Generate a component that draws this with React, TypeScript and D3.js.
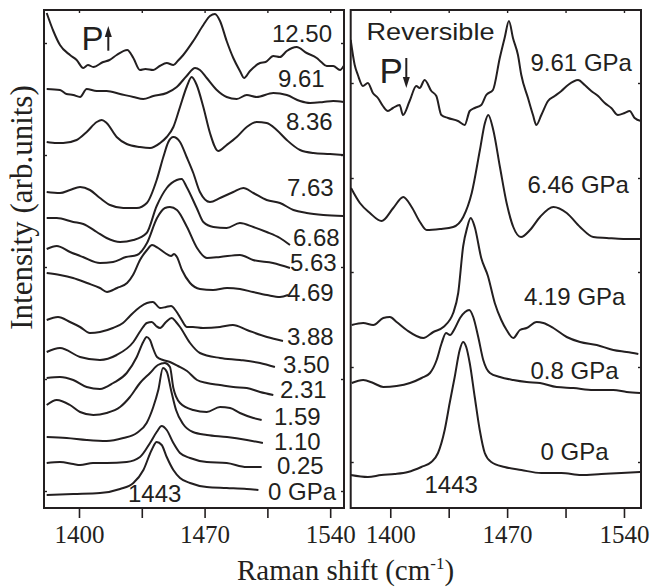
import React, { useRef, useEffect } from 'react';
import * as d3 from 'd3';

type Pt = [number, number];

// Raman shift (cm-1) vs stacked intensity (arb. units), compression run
const p1250: Pt[] = [[1382.0,495],[1385.7,477],[1389.4,463],[1395.0,453],[1398.7,448],[1402.4,440],[1405,443],[1408.0,441],[1413.5,446],[1417,448],[1421.0,453],[1426.9,458],[1430.3,450],[1434.0,438],[1437,439],[1441.4,438],[1445,442],[1448.9,445],[1452.6,443],[1455,447],[1458.1,453],[1463.7,467],[1469.3,483],[1473.0,492],[1475.8,494],[1478.6,487],[1482.3,467],[1486.0,450],[1489.7,437],[1492.0,430],[1495.3,437],[1500.9,445],[1504,446],[1508.3,452],[1512,451],[1515.8,457],[1521.3,461],[1526.9,455],[1532.5,450],[1535,446],[1538.1,442],[1541.7,442],[1545.5,438],[1547.5,442]];
const p961: Pt[] = [[1382.0,419],[1389.4,418],[1393,414],[1396.8,413],[1400.6,411],[1404.3,419],[1409.9,417],[1415.4,417],[1422.9,414],[1430.3,411],[1435.8,409],[1441.4,412],[1448.9,415],[1454.5,421],[1460.0,432],[1464.7,440],[1467.4,438],[1471.2,430],[1476.8,418],[1482.3,411],[1487.9,409],[1493.5,413],[1499.0,411],[1508.3,415],[1515.8,413],[1523.2,407],[1528.8,405],[1536.2,406],[1541.7,407],[1547.5,406]];
const p836: Pt[] = [[1382.0,366],[1387.6,365],[1391.2,365],[1398.7,368],[1404.3,376],[1409.9,386],[1412.7,388],[1415.4,385],[1421.0,371],[1426.6,364],[1434.0,361],[1439.6,360],[1445.2,365],[1448.9,371],[1452.6,381],[1456.3,401],[1460.0,421],[1462.8,431],[1465.6,423],[1469.3,401],[1473.0,375],[1477.6,357],[1482.3,363],[1487.9,371],[1493.5,381],[1499.0,386],[1504.6,385],[1510.2,378],[1515.8,368],[1523.2,358],[1530.6,355],[1539.9,354],[1547.3,353]];
const p763: Pt[] = [[1382.0,316],[1389.4,315],[1395.0,318],[1400.6,321],[1406.1,318],[1411.7,310],[1417.3,303],[1424.7,300],[1432.2,300],[1437.8,305],[1443.3,328],[1447.0,351],[1449.8,366],[1452.6,371],[1456.3,366],[1460.0,351],[1463.7,335],[1467.4,316],[1473.0,306],[1478.6,310],[1486.0,316],[1491.6,320],[1497.2,315],[1504.6,308],[1512.0,305],[1519.5,298],[1526.9,295],[1536.2,293],[1547.3,292]];
const p668: Pt[] = [[1382.0,290],[1387.6,290],[1396.8,286],[1402.4,284],[1409.9,276],[1415.4,270],[1422.9,266],[1430.3,268],[1437.7,275],[1443.3,302],[1448.9,320],[1454.5,328],[1457.2,329],[1460.0,321],[1465.6,300],[1469.3,286],[1474.9,281],[1482.3,280],[1489.7,285],[1497.2,281],[1504.6,276],[1512.0,270],[1517.6,263]];
const p563: Pt[] = [[1382.0,259],[1387.6,262],[1395.0,256],[1402.2,251],[1411.7,245],[1419.0,246],[1426.2,251],[1432.3,253],[1437.9,265],[1443.5,290],[1447.9,300],[1450.7,301],[1454.6,298],[1460.2,281],[1465.8,260],[1471.3,250],[1478.6,251],[1489.7,253],[1497.0,248],[1508.1,245],[1517.6,240]];
const p469: Pt[] = [[1382.0,235],[1389.4,233],[1396.7,230],[1404.5,225],[1411.7,220],[1415.6,216],[1421.2,220],[1426.8,225],[1430.1,233],[1434.0,248],[1437.9,258],[1440.7,263],[1444.1,260],[1448.0,255],[1451.3,252],[1453.0,254],[1454.6,251],[1457.4,238],[1461.9,225],[1467.4,219],[1474.7,218],[1482.5,220],[1489.7,219],[1497.0,216],[1504.8,213],[1512.0,211],[1516.5,213]];
const p388: Pt[] = [[1382.0,188],[1388.3,191],[1395.0,186],[1400.6,181],[1406.1,175],[1411.7,176],[1418.9,180],[1424.5,185],[1428.4,192],[1434.0,201],[1437.9,205],[1441.2,206],[1445.2,200],[1448.5,201],[1451.3,202],[1454.1,197],[1456.9,189],[1460.2,181],[1463.5,181],[1469.1,180],[1478.6,181],[1485.8,183],[1493.6,178],[1504.8,171],[1513.7,167]];
const p350: Pt[] = [[1382.0,156],[1389.4,160],[1400.6,151],[1411.7,148],[1421.0,153],[1430.3,166],[1434.6,178],[1437.8,185],[1440.6,186],[1443.0,182],[1445.2,180],[1448.5,186],[1451.7,190],[1454.1,186],[1456.3,181],[1461.9,165],[1467.4,155],[1478.6,150],[1489.7,148],[1500.9,145],[1509.2,141]];
const p231: Pt[] = [[1382.0,130],[1389.4,131],[1396.8,128],[1404.3,121],[1411.7,119],[1419.1,125],[1426.6,135],[1432.2,151],[1435.8,166],[1437.7,171],[1439.6,168],[1441.2,160],[1443.5,151],[1446.8,148],[1450.7,146],[1455.2,142],[1460.2,137],[1465.8,128],[1471.3,125],[1478.6,123],[1486.0,121],[1493.5,120],[1500.9,116],[1508.3,113]];
const p159: Pt[] = [[1382.0,103],[1387.6,108],[1395.0,103],[1400.6,96],[1408.0,93],[1415.4,95],[1422.9,101],[1428.4,111],[1434.0,125],[1439.6,135],[1444.0,143],[1447.9,145],[1450.7,141],[1452.6,120],[1456.3,105],[1463.7,98],[1471.2,96],[1478.6,101],[1484.2,100],[1489.7,95],[1497.2,90],[1501.8,88]];
const p110: Pt[] = [[1382.0,71],[1393.1,70],[1404.3,68],[1415.4,67],[1424.7,70],[1432.2,75],[1437.7,85],[1441.4,101],[1444.2,118],[1446.8,140],[1449.0,136],[1451.3,118],[1454.1,98],[1458.0,84],[1463.5,76],[1471.3,73],[1482.5,71],[1493.6,68],[1502.5,65]];
const p025: Pt[] = [[1382.0,45],[1389.4,46],[1396.8,44],[1400.6,43],[1407.8,45],[1415.4,45],[1426.6,46],[1434.0,51],[1439.6,65],[1443.3,76],[1446.1,82],[1448.9,78],[1452.6,65],[1456.3,55],[1461.9,50],[1471.2,46],[1482.3,45],[1493.5,41],[1501.8,41]];
const p000: Pt[] = [[1382.0,13],[1396.8,14],[1411.7,15],[1422.9,19],[1430.3,25],[1435.9,38],[1440.5,58],[1443.3,66],[1446.1,63],[1448.9,51],[1452.6,38],[1456.3,30],[1461.9,25],[1471.2,21],[1482.3,20],[1493.5,19],[1500.0,18]];

// decompression run (right panel)
const r961: Pt[] = [[1376.3,468],[1378.7,443],[1380.6,433],[1383.6,422],[1386.6,425],[1389.6,415],[1392.6,410],[1395.6,402],[1398.6,397],[1401.6,400],[1405.6,403],[1407.6,393],[1411.6,407],[1415.6,422],[1417.6,420],[1420.6,428],[1424.6,417],[1427.6,412],[1430.6,393],[1434.6,390],[1440.6,387],[1444.6,383],[1447.6,397],[1450.6,400],[1454.5,403],[1457.5,413],[1461.5,418],[1465.6,450],[1468.5,470],[1471.1,487],[1473.5,470],[1476.5,453],[1478.5,433],[1482.5,410],[1485.5,393],[1487.5,383],[1490.5,393],[1494.5,407],[1498.5,412],[1502.5,417],[1506.5,423],[1512.5,428],[1516.5,423],[1520.4,417],[1524.5,412],[1528.5,405],[1532.4,400],[1536.4,393],[1540.4,395],[1543.4,397],[1546.4,390],[1550.2,387]];
const r646: Pt[] = [[1376.5,320],[1381.8,305],[1387.8,295],[1394.8,287],[1401.8,300],[1407.8,311],[1412.8,301],[1417.8,286],[1421.8,278],[1429.8,279],[1437.7,281],[1443.7,291],[1448.8,315],[1453.7,358],[1456.7,385],[1458.7,393],[1461.7,378],[1465.7,341],[1469.7,305],[1473.7,281],[1478.3,271],[1483.7,278],[1489.7,291],[1497.7,301],[1505.7,295],[1513.7,281],[1521.6,271],[1529.7,270],[1539.6,269],[1549.6,269]];
const r419: Pt[] = [[1376.9,183],[1383.8,185],[1389.8,183],[1395.8,190],[1399.8,191],[1403.8,186],[1409.8,178],[1419.8,170],[1425.8,176],[1431.8,181],[1437.7,195],[1440.7,215],[1443.7,262],[1446.0,280],[1448.2,290],[1450.6,281],[1454.5,250],[1458.5,232],[1462.6,205],[1466.5,188],[1469.7,178],[1473.7,170],[1477.7,178],[1481.7,180],[1487.7,186],[1491.7,185],[1497.7,180],[1505.7,171],[1513.7,166],[1523.7,163],[1533.6,158],[1541.6,156],[1548.6,154]];
const r080: Pt[] = [[1376.9,125],[1383.8,128],[1389.8,125],[1395.8,121],[1403.8,122],[1411.8,125],[1418.8,130],[1423.8,135],[1427.8,148],[1430.8,165],[1433.4,175],[1435.8,173],[1438.8,180],[1441.8,190],[1444.8,196],[1447.3,198],[1449.7,191],[1452.7,171],[1455.7,148],[1459.7,135],[1465.7,131],[1473.7,128],[1481.7,126],[1489.7,125],[1499.7,121],[1509.7,120],[1521.6,118],[1533.6,118],[1541.6,116],[1549.6,115]];
const r000: Pt[] = [[1376.3,33],[1386.6,31],[1394.6,33],[1402.6,34],[1410.6,36],[1418.6,41],[1424.6,46],[1428.6,55],[1432.6,78],[1435.6,105],[1438.6,131],[1441.6,158],[1443.6,166],[1445.5,161],[1447.6,145],[1450.6,111],[1453.6,78],[1456.6,55],[1460.5,46],[1468.5,41],[1478.5,38],[1490.5,35],[1502.5,35],[1514.4,33],[1526.4,34],[1538.4,35],[1550.2,36]];

const leftSpectra = [p1250, p961, p836, p763, p668, p563, p469, p388, p350, p231, p159, p110, p025, p000];
const rightSpectra = [r961, r646, r419, r080, r000];

const leftLabels = ['12.50', '9.61', '8.36', '7.63', '6.68', '5.63', '4.69', '3.88', '3.50', '2.31', '1.59', '1.10', '0.25', '0 GPa'];
const rightLabels = ['9.61 GPa', '6.46 GPa', '4.19 GPa', '0.8 GPa', '0 GPa'];

const xTicks = [1400, 1435, 1470, 1505, 1540];
const labelledTicks = [1400, 1470, 1540];
const leftYTicks = [17, 129, 241, 353, 465];
const rightYTicks = [46, 141, 236, 330, 425];

// label anchors (px)
const leftLabelPos: Pt[] = [[272, 42], [278, 87], [286, 130], [287, 195.5], [293, 246], [290, 271], [287, 301], [287, 345], [283, 373], [280, 398], [274, 425], [274, 450], [277, 474], [268, 500]];
const rightLabelPos: Pt[] = [[530.5, 70.5], [527.5, 192.5], [524, 305], [530.5, 379], [540.5, 460]];

const ink = '#231f20';
const sans = '"Liberation Sans", Arial, sans-serif';
const serif = '"Liberation Serif", "Times New Roman", serif';

export default function App() {
  const ref = useRef<SVGSVGElement>(null);

  useEffect(() => {
    if (!ref.current) return;
    const svg = d3.select(ref.current);
    svg.selectAll('*').remove();

    const bottom = 508, top = 10;
    const y = d3.scaleLinear().domain([0, 498]).range([bottom, top]);
    const xL = d3.scaleLinear().domain([1380.5, 1547.7]).range([44, 344]);
    const xR = d3.scaleLinear().domain([1376.3, 1550.2]).range([350.7, 641]);

    const panels = [
      { id: 'L', x: xL, spectra: leftSpectra, yTicks: leftYTicks },
      { id: 'R', x: xR, spectra: rightSpectra, yTicks: rightYTicks },
    ];

    panels.forEach(p => {
      const [x0, x1] = p.x.range();
      svg.append('clipPath').attr('id', 'clip' + p.id)
        .append('rect').attr('x', x0).attr('y', top).attr('width', x1 - x0).attr('height', bottom - top);

      const line = d3.line<Pt>().x(d => p.x(d[0])).y(d => y(d[1])).curve(d3.curveMonotoneX);
      svg.append('g').attr('clip-path', `url(#clip${p.id})`)
        .selectAll('path').data(p.spectra).enter().append('path')
        .attr('d', d => line(d))
        .attr('fill', 'none').attr('stroke', ink).attr('stroke-width', 2).attr('stroke-linejoin', 'round');

      // bottom axis
      const ax = svg.append('g').attr('transform', `translate(0,${bottom})`)
        .call(d3.axisBottom(p.x).tickValues(xTicks).tickSize(10).tickPadding(7)
          .tickFormat(d => (labelledTicks.includes(+d) ? String(d) : '')));
      ax.select('.domain').remove();
      ax.selectAll('line').attr('stroke', ink).attr('stroke-width', 1.6);
      ax.selectAll('text').attr('fill', ink).style('font-family', serif).style('font-size', '25px');

      // top ticks (inward)
      const at = svg.append('g').attr('transform', `translate(0,${top})`)
        .call(d3.axisBottom(p.x).tickValues(xTicks).tickSize(3).tickFormat(() => ''));
      at.select('.domain').remove();
      at.selectAll('line').attr('stroke', ink).attr('stroke-width', 1.4);

      // y ticks, both edges, inward
      const yl = svg.append('g').attr('transform', `translate(${x0},0)`)
        .call(d3.axisRight(y).tickValues(p.yTicks).tickSize(3).tickFormat(() => ''));
      yl.select('.domain').remove();
      yl.selectAll('line').attr('stroke', ink).attr('stroke-width', 1.4);
      const yr = svg.append('g').attr('transform', `translate(${x1},0)`)
        .call(d3.axisLeft(y).tickValues(p.yTicks).tickSize(3).tickFormat(() => ''));
      yr.select('.domain').remove();
      yr.selectAll('line').attr('stroke', ink).attr('stroke-width', 1.4);

      svg.append('rect').attr('x', x0).attr('y', top).attr('width', x1 - x0).attr('height', bottom - top)
        .attr('fill', 'none').attr('stroke', ink).attr('stroke-width', 2);
    });

    const label = (t: string, px: number, py: number, size = 24) =>
      svg.append('text').attr('x', px).attr('y', py).text(t)
        .attr('fill', ink).style('font-family', sans).style('font-size', size + 'px');

    leftLabels.forEach((t, i) => label(t, leftLabelPos[i][0], leftLabelPos[i][1]));
    rightLabels.forEach((t, i) => label(t, rightLabelPos[i][0], rightLabelPos[i][1]));
    label('1443', 128, 502);
    label('1443', 424.5, 493);
    label('Reversible', 366.5, 40).attr('textLength', 128).attr('lengthAdjust', 'spacingAndGlyphs');

    // pressure arrows
    label('P', 81.5, 49.7, 33);
    svg.append('line').attr('x1', 108.3).attr('x2', 108.3).attr('y1', 50.7).attr('y2', 32)
      .attr('stroke', ink).attr('stroke-width', 2);
    svg.append('path').attr('d', 'M108.3,26 L104.8,37 L111.8,37 Z').attr('fill', ink);
    label('P', 379.5, 83, 35);
    svg.append('line').attr('x1', 406.3).attr('x2', 406.3).attr('y1', 58).attr('y2', 82)
      .attr('stroke', ink).attr('stroke-width', 2);
    svg.append('path').attr('d', 'M406.3,88 L402.8,77 L409.8,77 Z').attr('fill', ink);

    // axis titles
    svg.append('text')
      .attr('transform', 'translate(32,207.5) rotate(-90)')
      .attr('text-anchor', 'middle')
      .attr('fill', ink).style('font-family', serif).style('font-size', '31px')
      .text('Intensity (arb.units)');

    const xt = svg.append('text').attr('x', 237).attr('y', 580)
      .attr('fill', ink).style('font-family', serif).style('font-size', '29px');
    xt.append('tspan').text('Raman shift (cm');
    xt.append('tspan').attr('dy', -11).style('font-size', '17px').text('-1');
    xt.append('tspan').attr('dy', 11).text(')');
  });

  return (
    <svg
      ref={ref}
      width={650}
      height={587}
      style={{ position: 'absolute', left: 0, top: 0, background: '#fff' }}
    />
  );
}
